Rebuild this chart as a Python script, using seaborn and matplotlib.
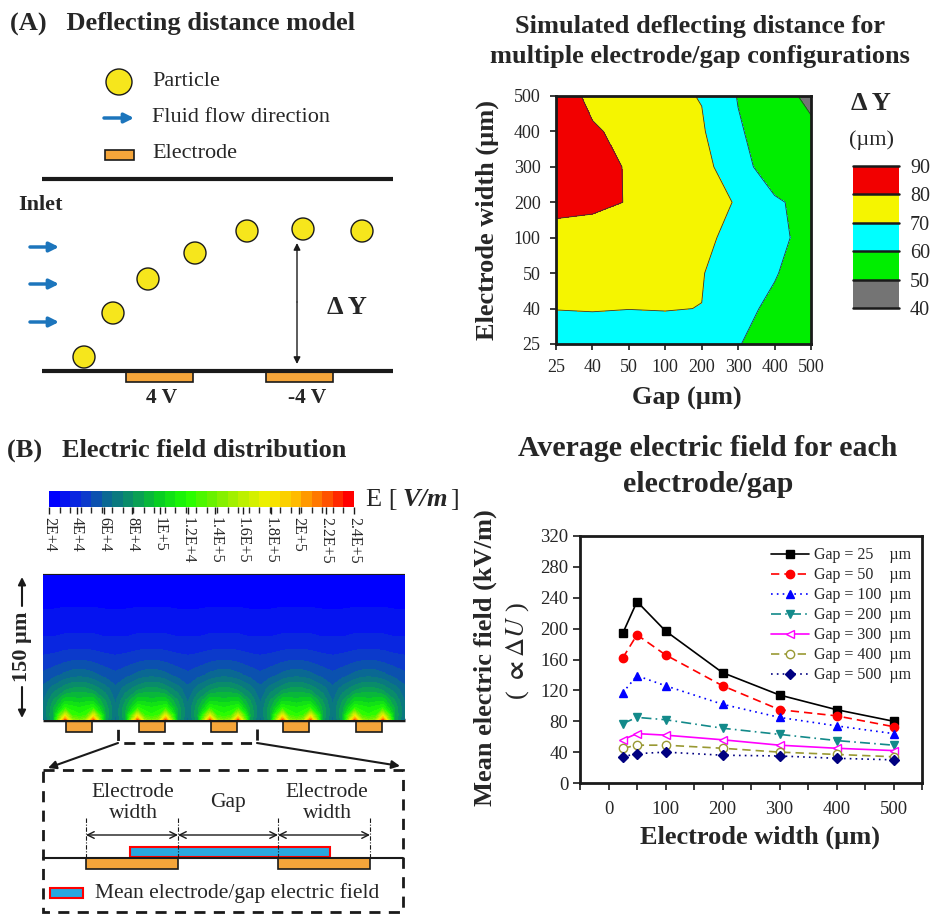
import numpy as np
import matplotlib
matplotlib.use("Agg")
import matplotlib.pyplot as plt
import seaborn as sns
from matplotlib.patches import Circle, Rectangle
from matplotlib.colors import LinearSegmentedColormap, ListedColormap, BoundaryNorm
from matplotlib.cm import ScalarMappable

# ---- (A) simulated deflecting distance (um); rows = electrode width, cols = gap
size_labels = ["25", "40", "50", "100", "200", "300", "400", "500"]
dy_w25 = [65.0, 66.0, 66.0, 66.0, 64.0, 60.5, 55.0, 52.0]
dy_w40 = [70.2, 70.4, 70.1, 70.3, 69.9, 64.0, 57.0, 53.0]
dy_w50 = [73.0, 74.0, 74.0, 72.0, 70.5, 64.3, 61.0, 52.0]
dy_w100 = [73.0, 76.0, 76.0, 74.0, 72.0, 67.2, 63.0, 56.0]
dy_w200 = [86.0, 82.0, 79.6, 76.0, 72.0, 69.6, 62.0, 55.1]
dy_w300 = [87.0, 83.0, 79.3, 76.0, 72.0, 66.0, 51.7, 52.0]
dy_w400 = [86.0, 81.0, 77.7, 74.0, 71.0, 61.0, 55.0, 51.9]
dy_w500 = [85.0, 77.8, 76.0, 72.0, 69.6, 59.5, 54.0, 47.8]
dy_levels = [40, 50, 60, 70, 80, 90]
dy_colors = ["#747474", "#00ee00", "#00ffff", "#f5f500", "#f20000"]

# ---- (B) average electric field (kV/m) vs electrode width (um)
electrode_width = [25, 50, 100, 200, 300, 400, 500]
field_gap25 = [194, 235, 197, 143, 114, 95, 80]
field_gap50 = [162, 192, 166, 126, 95, 87, 73]
field_gap100 = [117, 139, 126, 102, 85, 74, 64]
field_gap200 = [77, 85, 82, 71, 63, 55, 49]
field_gap300 = [56, 64, 62, 56, 49, 45, 42]
field_gap400 = [45, 49, 49, 45, 40, 37, 34]
field_gap500 = [34, 38, 40, 36, 35, 32, 30]

# ---- (B) field map, one electrode period (x1E4 V/m); rows = height, cols = offset
field_heights = [0, 5, 12, 20, 31, 45, 62, 80, 113, 145]
field_offsets = [-36, -26, -14, -7, 0]
field_half = [
    [6.3, 8.5, 22.0, 15.0, 14.0],
    [6.5, 8.8, 17.0, 12.5, 12.0],
    [6.6, 8.6, 12.0, 11.5, 11.2],
    [6.4, 8.0, 10.0, 10.0, 9.8],
    [6.0, 6.9, 7.8, 8.2, 8.3],
    [5.2, 5.5, 6.0, 6.2, 6.3],
    [4.4, 4.5, 4.7, 4.8, 4.8],
    [3.6, 3.6, 3.7, 3.7, 3.7],
    [2.7, 2.7, 2.75, 2.75, 2.75],
    [2.0, 2.0, 2.0, 2.0, 2.0],
]
n_electrodes = 5
cbar_ticks = [2, 4, 6, 8, 10, 12, 14, 16, 18, 20, 22, 24]
cbar_labels = ["2E+4", "4E+4", "6E+4", "8E+4", "1E+5", "1.2E+4", "1.4E+5",
               "1.6E+5", "1.8E+5", "2E+5", "2.2E+5", "2.4E+5"]

sns.set_theme(style="ticks")
plt.rcParams["font.family"] = ["Liberation Serif", "DejaVu Serif"]
plt.rcParams["mathtext.fontset"] = "stix"

W, H = 932, 914
fig = plt.figure(figsize=(W / 100, H / 100), dpi=100)


def px_axes(x0, y0, x1, y1):
    return fig.add_axes([x0 / W, 1 - y1 / H, (x1 - x0) / W, (y1 - y0) / H])


# overlay in pixel coordinates for the drawn diagrams and titles
ov = px_axes(0, 0, W, H)
ov.set_xlim(0, W)
ov.set_ylim(H, 0)
ov.axis("off")

YEL = "#f6e61c"
ORG = "#f5a53a"
BLU = "#1c75bc"


def arrow(x0, y0, x1, y1, style="-|>", color="k", lw=1.2, ms=12):
    ov.annotate("", xy=(x1, y1), xytext=(x0, y0),
                arrowprops=dict(arrowstyle=style, color=color, lw=lw,
                                mutation_scale=ms, shrinkA=0, shrinkB=0))


# ================= panel A : model sketch =================
ov.text(10, 23, "(A)   Deflecting distance model", fontsize=19,
        fontweight="bold", va="center")
ov.add_patch(Circle((119, 82), 13, fc=YEL, ec="k", lw=1))
ov.text(152, 82, "Particle", fontsize=16, va="center")
arrow(104, 118, 134, 118, color=BLU, lw=2.5, ms=14)
ov.text(152, 117, "Fluid flow direction", fontsize=16, va="center")
ov.add_patch(Rectangle((105, 150), 29, 10, fc=ORG, ec="k", lw=1.2))
ov.text(152, 154, "Electrode", fontsize=16, va="center")

ov.plot([42, 393], [179, 179], color="k", lw=3, solid_capstyle="butt")
ov.plot([42, 393], [371, 371], color="k", lw=3, solid_capstyle="butt")
ov.text(18, 205, "Inlet", fontsize=16, fontweight="bold", va="center")
for yy in (247, 284, 322):
    arrow(30, yy, 59, yy, color=BLU, lw=2.5, ms=14)
for cx, cy in [(84, 357), (113, 313), (148, 279), (195, 253),
               (247, 231), (303, 229), (362, 231)]:
    ov.add_patch(Circle((cx, cy), 11, fc=YEL, ec="k", lw=1))
ov.add_patch(Rectangle((126, 372), 67, 10, fc=ORG, ec="k", lw=1.2))
ov.add_patch(Rectangle((266, 372), 67, 10, fc=ORG, ec="k", lw=1.2))
ov.text(162, 398, "4 V", fontsize=15.5, fontweight="bold", ha="center", va="center")
ov.text(307, 398, "-4 V", fontsize=15.5, fontweight="bold", ha="center", va="center")
arrow(297, 302, 297, 243, lw=1, ms=10)
arrow(297, 302, 297, 364, lw=1, ms=10)
ov.text(347, 307, "Δ Y", fontsize=19, fontweight="bold", ha="center", va="center")

# ================= panel A : contour =================
ov.text(700, 26, "Simulated deflecting distance for", fontsize=19,
        fontweight="bold", ha="center", va="center")
ov.text(700, 56, "multiple electrode/gap configurations", fontsize=19,
        fontweight="bold", ha="center", va="center")

dy_grid = np.array([dy_w25, dy_w40, dy_w50, dy_w100,
                    dy_w200, dy_w300, dy_w400, dy_w500])
idx = np.arange(len(size_labels))
axc = px_axes(556, 96, 811, 344)
cf = axc.contourf(idx, idx, dy_grid, levels=dy_levels, colors=dy_colors)
axc.contour(idx, idx, dy_grid, levels=dy_levels[1:-1], colors="#333333",
            linewidths=0.6)
axc.set_xlim(0, 7)
axc.set_ylim(0, 7)
axc.set_xticks(idx)
axc.set_xticklabels(size_labels)
axc.set_yticks(idx)
axc.set_yticklabels(size_labels)
axc.tick_params(labelsize=13, length=4, width=1.2, pad=7, color="k")
for sp in axc.spines.values():
    sp.set_linewidth(2)
    sp.set_color("k")
axc.set_xlabel("Gap (µm)", fontsize=19, fontweight="bold", va="center")
axc.xaxis.set_label_coords((687 - 556) / 255, (344 - 398) / 248)
axc.set_ylabel("Electrode width (µm)", fontsize=19, fontweight="bold", va="center")
axc.yaxis.set_label_coords((487 - 556) / 255, 0.5)

cax = px_axes(853, 166, 899, 308)
cb = fig.colorbar(cf, cax=cax, ticks=dy_levels)
cb.outline.set_visible(False)
cax.tick_params(length=0, labelsize=14.5, pad=8)
for lv in dy_levels:
    cax.axhline(lv, color="k", lw=1.8, clip_on=False)
ov.text(871, 103, "Δ Y", fontsize=19, fontweight="bold", ha="center", va="center")
ov.text(872, 140, "(µm)", fontsize=16, ha="center", va="center")

# ================= panel B : field distribution =================
ov.text(7, 450, "(B)   Electric field distribution", fontsize=19,
        fontweight="bold", va="center")

field_cmap = LinearSegmentedColormap.from_list("field", [
    (0.00, "#0000ff"), (0.09, "#0c30d8"), (0.18, "#0a6a90"), (0.27, "#0a9560"),
    (0.36, "#08d020"), (0.45, "#20ff00"), (0.545, "#70f000"), (0.636, "#b8f000"),
    (0.727, "#f4f000"), (0.818, "#ffc000"), (0.909, "#ff6a00"), (1.00, "#ff0000")])
field_levels = np.linspace(2, 24, 30)
band_colors = field_cmap(np.linspace(0, 1, 29))
band_cmap = ListedColormap(band_colors)
band_cmap.set_under(band_colors[0])
band_cmap.set_over(band_colors[-1])

half = np.array(field_half)
period = np.hstack([half, half[:, -2::-1]])
offs = np.array(field_offsets, dtype=float)
offs_full = np.concatenate([offs, -offs[-2::-1]])
pitch = 2 * abs(offs[0])
fx = np.concatenate([pitch / 2 + pitch * k + offs_full[:-1] for k in range(n_electrodes)]
                    + [[pitch * n_electrodes]])
fz = np.hstack([period[:, :-1]] * n_electrodes + [period[:, -1:]])

axf = px_axes(43, 575, 405, 720)
axf.contourf(fx, field_heights, fz, levels=field_levels, cmap=band_cmap,
             norm=BoundaryNorm(field_levels, 29), extend="both")
axf.set_xlim(0, pitch * n_electrodes)
axf.set_ylim(0, 145)
axf.axis("off")

cbb = px_axes(49, 491, 354, 507)
cbar_b = fig.colorbar(ScalarMappable(norm=BoundaryNorm(field_levels, 29), cmap=band_cmap),
                      cax=cbb, orientation="horizontal")
cbar_b.outline.set_visible(False)
cbar_b.set_ticks(cbar_ticks)
cbar_b.set_ticklabels(cbar_labels)
cbb.tick_params(axis="x", length=5, width=1, pad=2, labelsize=11.5,
                labelrotation=-90, color="k")
ov.text(366, 500, "E [", fontsize=19, va="center")
ov.text(402, 500, "V/m", fontsize=19, va="center", fontweight="bold", style="italic")
ov.text(450, 500, "]", fontsize=19, va="center")

ov.plot([43, 405], [576, 576], color="k", lw=3, solid_capstyle="butt")
ov.plot([43, 405], [720, 720], color="k", lw=2.5, solid_capstyle="butt")
for k in range(n_electrodes):
    cx = 43 + (pitch / 2 + pitch * k) * 362 / (pitch * n_electrodes)
    ov.add_patch(Rectangle((cx - 13, 721), 26, 11, fc=ORG, ec="k", lw=1.2))
ov.text(22, 647, "150 µm", fontsize=16, fontweight="bold", rotation=90,
        ha="center", va="center")
arrow(22, 606, 22, 577, lw=1.5, ms=11)
arrow(22, 687, 22, 718, lw=1.5, ms=11)

ov.add_patch(Rectangle((118, 693), 139, 50, fc="none", ec="k", lw=2,
                       ls=(0, (4, 3))))
arrow(118, 743, 48, 768, lw=1.5, ms=12)
arrow(257, 743, 400, 766, lw=1.5, ms=12)
ov.add_patch(Rectangle((43, 770), 360, 142, fc="none", ec="k", lw=2,
                       ls=(0, (4, 3))))

ov.plot([43, 403], [858, 858], color="k", lw=1.5)
ov.add_patch(Rectangle((86, 858), 92, 11, fc=ORG, ec="k", lw=1.2))
ov.add_patch(Rectangle((278, 858), 92, 11, fc=ORG, ec="k", lw=1.2))
ov.add_patch(Rectangle((130, 847), 200, 10, fc="#29a8e0", ec="#ff0000", lw=1.5))
for xx in (86, 178, 278, 370):
    ov.plot([xx, xx], [818, 858], color="k", lw=0.8, ls=(0, (4, 1.5, 1, 1.5)))
for xa, xb in ((86, 178), (178, 278), (278, 370)):
    arrow(xa, 835, xb, 835, style="<->", lw=1, ms=12)
ov.text(133, 803, "Electrode\nwidth", fontsize=15.5, ha="center", va="center",
        linespacing=1.1)
ov.text(228, 803, "Gap", fontsize=15.5, ha="center", va="center")
ov.text(327, 803, "Electrode\nwidth", fontsize=15.5, ha="center", va="center",
        linespacing=1.1)
ov.add_patch(Rectangle((50, 888), 33, 10, fc="#29a8e0", ec="#ff0000", lw=1.5))
ov.text(95, 893, "Mean electrode/gap electric field", fontsize=15.5, va="center")

# ================= panel B : mean field line chart =================
ov.text(708, 448, "Average electric field for each", fontsize=21.5,
        fontweight="bold", ha="center", va="center")
ov.text(708, 485, "electrode/gap", fontsize=21.5, fontweight="bold",
        ha="center", va="center")

ax2 = px_axes(580, 536, 922, 783)
series = [
    ("Gap = 25    µm", field_gap25, "#000000", "-", "s", "#000000"),
    ("Gap = 50    µm", field_gap50, "#ff0000", (0, (5, 3)), "o", "#ff0000"),
    ("Gap = 100  µm", field_gap100, "#0000ff", (0, (1, 2.5)), "^", "#0000ff"),
    ("Gap = 200  µm", field_gap200, "#138a8a", (0, (6, 2.5, 1, 2.5)), "v", "#138a8a"),
    ("Gap = 300  µm", field_gap300, "#ff00ff", "-", "<", "white"),
    ("Gap = 400  µm", field_gap400, "#999933", (0, (5, 3)), "o", "white"),
    ("Gap = 500  µm", field_gap500, "#000080", (0, (1, 2.5)), "D", "#000080"),
]
for lab, vals, col, ls, mk, mfc in series:
    sns.lineplot(x=electrode_width, y=vals, ax=ax2, color=col, linestyle=ls,
                 linewidth=1.2, marker=mk, markersize=6 if mk != "D" else 5,
                 markerfacecolor=mfc, markeredgecolor=col, markeredgewidth=1,
                 label=lab)
ax2.set_xlim(-50, 550)
ax2.set_ylim(0, 320)
ax2.set_xticks([0, 100, 200, 300, 400, 500])
ax2.set_xticks(np.arange(-50, 551, 50), minor=True)
ax2.set_yticks(np.arange(0, 321, 40))
ax2.tick_params(axis="both", which="major", labelsize=13.5, length=5, width=1.2,
                color="k")
ax2.tick_params(axis="x", which="minor", length=5, width=1.2, color="k")
ax2.tick_params(axis="x", which="major", pad=8)
for sp in ax2.spines.values():
    sp.set_linewidth(2)
    sp.set_color("k")
ax2.legend(loc="upper right", frameon=False, fontsize=11.5, handlelength=2.4,
           handletextpad=0.3, labelspacing=0.25, borderaxespad=0.3)
ax2.set_xlabel("Electrode width (µm)", fontsize=19, fontweight="bold", va="center")
ax2.xaxis.set_label_coords((760 - 580) / 342, (783 - 837) / 247)
ax2.set_ylabel("Mean electric field (kV/m)", fontsize=19, fontweight="bold",
               va="center")
ax2.yaxis.set_label_coords((485 - 580) / 342, (783 - 658) / 247)
ov.text(518, 651, r"( $\mathbf{\propto}\Delta U$ )", fontsize=19, rotation=90,
        ha="center", va="center")

fig.savefig("out.png", dpi=100)
